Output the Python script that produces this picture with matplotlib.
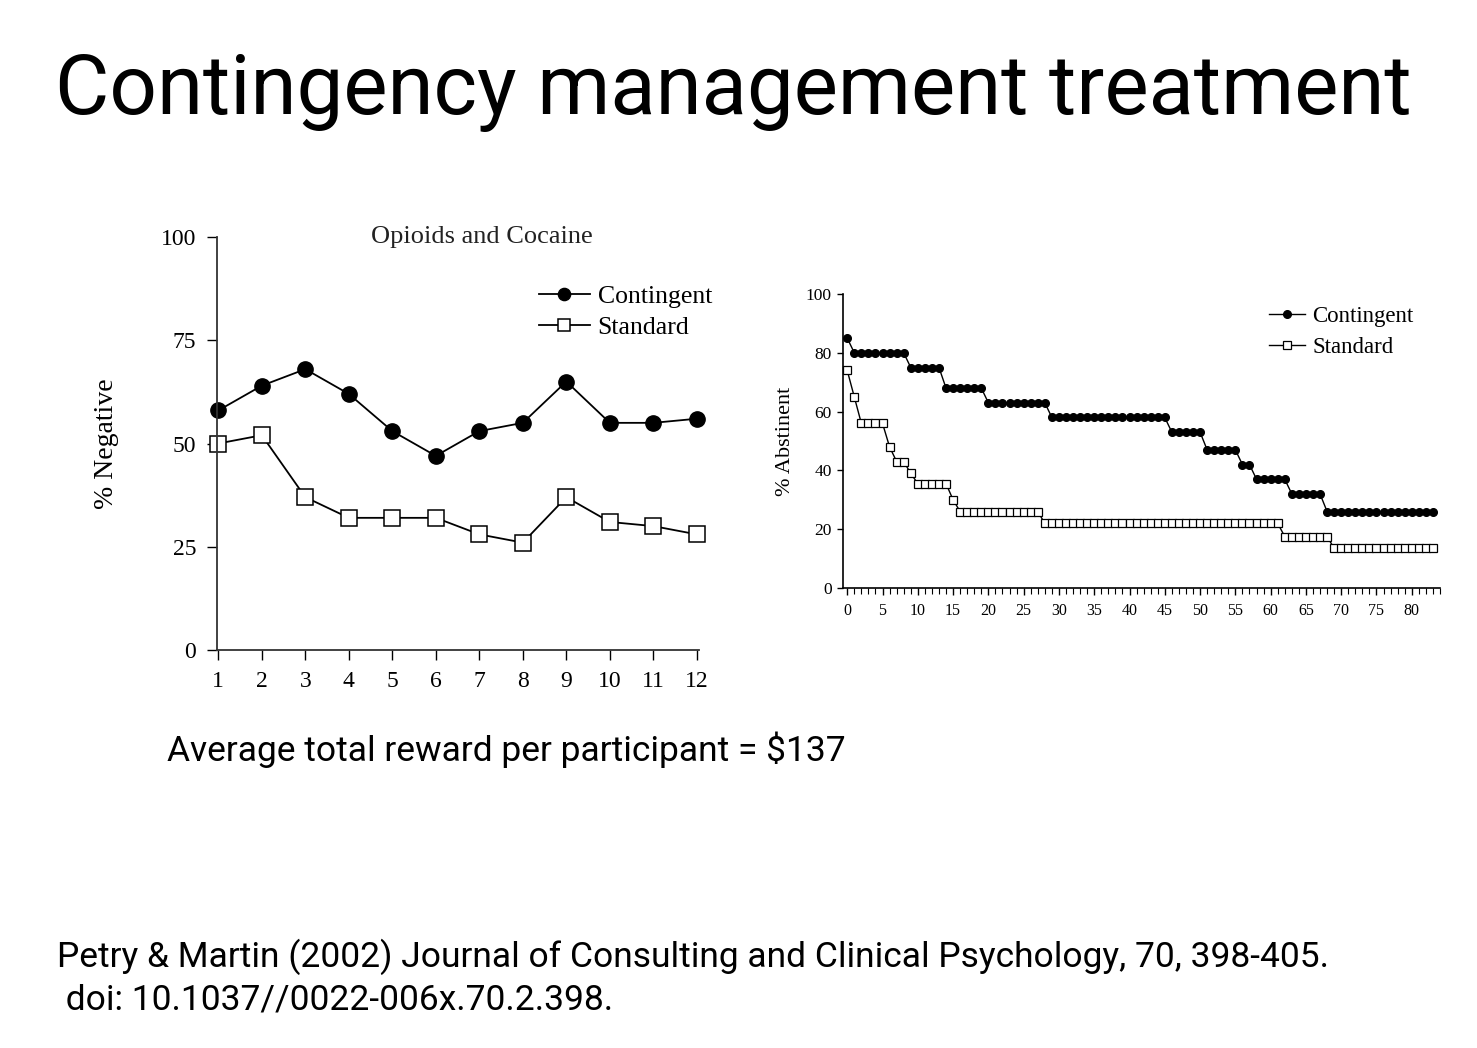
import numpy as np
import matplotlib
matplotlib.use("Agg")
import matplotlib.pyplot as plt
from matplotlib.ticker import MultipleLocator

# left panel: weekly % negative samples
weeks = [1, 2, 3, 4, 5, 6, 7, 8, 9, 10, 11, 12]
neg_contingent = [58, 64, 68, 62, 53, 47, 53, 55, 65, 55, 55, 56]
neg_standard = [50, 52, 37, 32, 32, 32, 28, 26, 37, 31, 30, 28]

# right panel: % continuously abstinent by day
days = list(range(0, 84))
abst_contingent = ([85] + [80] * 8 + [75] * 5 + [68] * 6 + [63] * 9 + [58] * 17
                   + [53] * 5 + [47] * 5 + [42] * 2 + [37] * 5 + [32] * 5 + [26] * 16)
abst_standard = ([74, 65] + [56] * 4 + [48] + [43] * 2 + [39] + [35.5] * 5 + [30]
                 + [26] * 12 + [22] * 34 + [17.5] * 7 + [13.5] * 15)

SERIF = "Liberation Serif"
SANS = ["Roboto", "DejaVu Sans"]

fig = plt.figure(figsize=(14.77, 10.48), dpi=100)

fig.text(55 / 1477, 1 - 92 / 1048, "Contingency management treatment",
         fontsize=60, family=SANS, va="center", ha="left")
fig.text(167 / 1477, 1 - 750 / 1048, "Average total reward per participant = $137",
         fontsize=25.5, family=SANS, va="center", ha="left")
fig.text(57 / 1477, 1 - 957 / 1048,
         "Petry & Martin (2002) Journal of Consulting and Clinical Psychology, 70, 398-405.",
         fontsize=25.5, family=SANS, va="center", ha="left")
fig.text(57 / 1477, 1 - 1000 / 1048, " doi: 10.1037//0022-006x.70.2.398.",
         fontsize=25.5, family=SANS, va="center", ha="left")

# ---- left chart
ax1 = fig.add_axes([217 / 1477, 1 - 650 / 1048, 482 / 1477, 413 / 1048])
ax1.plot(weeks, neg_contingent, color="black", lw=1.3, marker="o", ms=11,
         mfc="black", mec="black", label="Contingent", clip_on=False)
ax1.plot(weeks, neg_standard, color="black", lw=1.3, marker="s", ms=11,
         mfc="white", mec="black", mew=1.1, label="Standard", clip_on=False)
ax1.set_xlim(0.97, 12.05)
ax1.set_ylim(0, 100)
ax1.set_xticks(weeks)
ax1.set_yticks([0, 25, 50, 75, 100])
for s in ["top", "right"]:
    ax1.spines[s].set_visible(False)
for s in ["left", "bottom"]:
    ax1.spines[s].set_color("#333333")
    ax1.spines[s].set_linewidth(1.3)
ax1.tick_params(labelsize=17, length=7, width=1, pad=8)
for lab in ax1.get_xticklabels() + ax1.get_yticklabels():
    lab.set_family(SERIF)
ax1.set_ylabel("% Negative", fontsize=20, family=SERIF, labelpad=30)
ax1.text(0.55, 1.0, "Opioids and Cocaine", transform=ax1.transAxes,
         fontsize=19, family=SERIF, ha="center", va="center", color="#222222")
ax1.legend(loc="upper right", bbox_to_anchor=(1.075, 0.94), frameon=False,
           prop={"family": SERIF, "size": 18.5}, handlelength=2.0,
           handletextpad=0.3, labelspacing=0.3, markerscale=0.8)

# ---- right chart
ax2 = fig.add_axes([843 / 1477, 1 - 588 / 1048, 597 / 1477, 294 / 1048])
ax2.plot(days, abst_contingent, color="black", lw=1.0, marker="o", ms=5.5,
         mfc="black", mec="black", label="Contingent", clip_on=False)
ax2.plot(days, abst_standard, color="black", lw=1.0, marker="s", ms=5.5,
         mfc="white", mec="black", mew=0.9, label="Standard", clip_on=False)
ax2.set_xlim(-0.6, 84)
ax2.set_ylim(0, 100)
ax2.set_xticks(range(0, 85, 5))
ax2.xaxis.set_minor_locator(MultipleLocator(1))
ax2.set_yticks(range(0, 101, 20))
for s in ["top", "right"]:
    ax2.spines[s].set_visible(False)
for s in ["left", "bottom"]:
    ax2.spines[s].set_linewidth(1.2)
ax2.tick_params(axis="x", labelsize=11.5, length=5, width=1, pad=6)
ax2.tick_params(axis="x", which="minor", length=4, width=0.8)
ax2.tick_params(axis="y", labelsize=12.5, length=4, width=1, pad=4)
for lab in ax2.get_xticklabels() + ax2.get_yticklabels():
    lab.set_family(SERIF)
ax2.set_ylabel("% Abstinent", fontsize=16, family=SERIF, labelpad=8)
ax2.legend(loc="upper right", bbox_to_anchor=(0.99, 1.03), frameon=False,
           prop={"family": SERIF, "size": 16.5}, handlelength=1.6,
           handletextpad=0.3, labelspacing=0.45)

fig.savefig("out.png", dpi=100)
